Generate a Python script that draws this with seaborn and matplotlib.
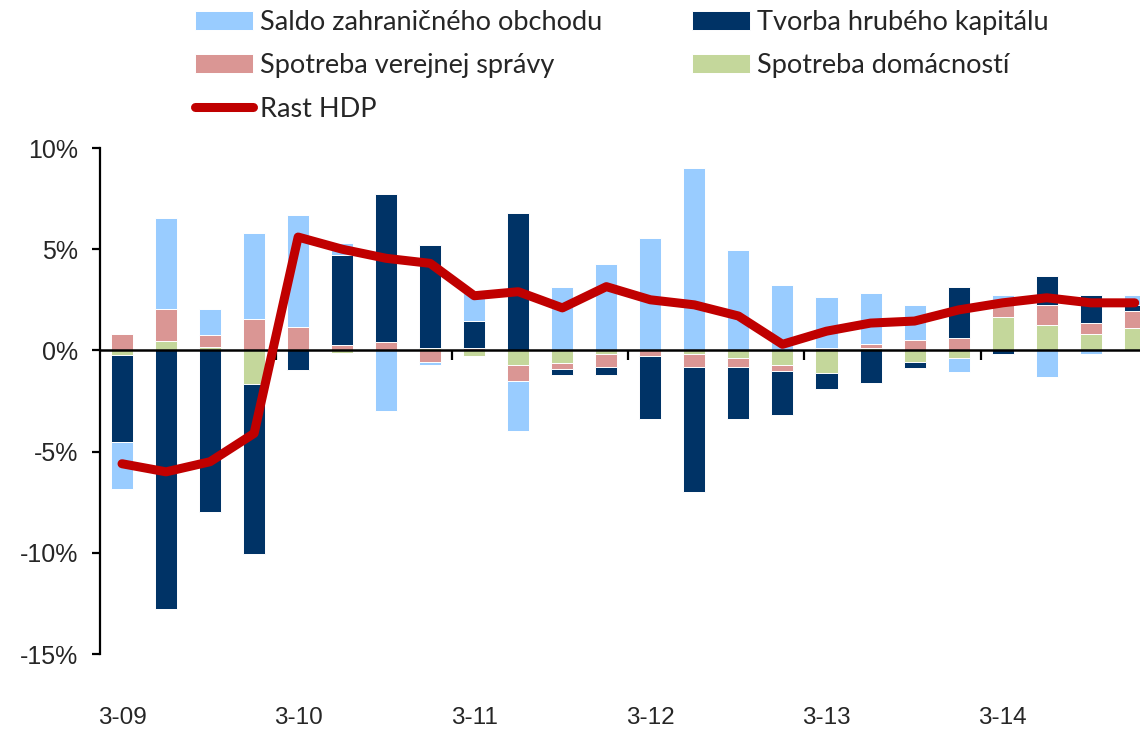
import numpy as np
import pandas as pd
import matplotlib.pyplot as plt
import seaborn as sns
from matplotlib.ticker import FuncFormatter

quarters = ["3-09", "6-09", "9-09", "12-09", "3-10", "6-10", "9-10", "12-10",
            "3-11", "6-11", "9-11", "12-11", "3-12", "6-12", "9-12", "12-12",
            "3-13", "6-13", "9-13", "12-13", "3-14", "6-14", "9-14", "12-14"]

# contributions to GDP growth, p.p.
domacnosti = [-0.23, 0.45, 0.15, -1.65, 0.0, -0.15, 0.0, 0.13, -0.28, -0.7, -0.6, -0.2,
              0.0, -0.18, -0.38, -0.7, -1.1, 0.13, -0.56, -0.36, 1.63, 1.24, 0.83, 1.12]
verejna = [0.83, 1.6, 0.6, 1.55, 1.15, 0.25, 0.43, -0.55, 0.13, -0.8, -0.3, -0.6,
           -0.28, -0.62, -0.42, -0.3, 0.12, 0.17, 0.5, 0.61, 0.81, 1.0, 0.5, 0.81]
kapital = [-4.3, -12.8, -8.0, -8.4, -0.97, 4.45, 7.3, 5.1, 1.3, 6.8, -0.3, -0.4,
           -3.12, -6.2, -2.58, -2.2, -0.8, -1.6, -0.31, 2.52, -0.2, 1.42, 1.42, 0.3]
saldo = [-2.3, 4.5, 1.3, 4.25, 5.55, 0.6, -3.0, -0.15, 1.5, -2.5, 3.15, 4.25,
         5.55, 9.0, 4.97, 3.25, 2.5, 2.55, 1.75, -0.73, 0.3, -1.29, -0.18, 0.51]
hdp = [-5.6, -6.0, -5.5, -4.1, 5.6, 5.0, 4.55, 4.3, 2.7, 2.9, 2.1, 3.15,
       2.5, 2.25, 1.7, 0.3, 0.95, 1.35, 1.45, 2.0, 2.35, 2.6, 2.35, 2.35]

# stacking order from the zero line outwards
series = [
    ("Spotreba domácností", domacnosti, "#C4D79B"),
    ("Spotreba verejnej správy", verejna, "#DA9694"),
    ("Tvorba hrubého kapitálu", kapital, "#003366"),
    ("Saldo zahraničného obchodu", saldo, "#99CCFF"),
]

sns.set_style("white")
plt.rcParams['font.family'] = ['Liberation Sans', 'DejaVu Sans']

fig, ax = plt.subplots(figsize=(11.4, 7.33), dpi=100)
fig.subplots_adjust(left=100 / 1140, right=1.0, top=1 - 148 / 733, bottom=1 - 654 / 733)

x = np.arange(len(quarters))
pos_bottom = np.zeros(len(quarters))
neg_bottom = np.zeros(len(quarters))
handles = {}
for name, vals, color in series:
    v = np.array(vals)
    bottom = np.where(v >= 0, pos_bottom, neg_bottom)
    bars = ax.bar(x, v, width=0.5, bottom=bottom, color=color,
                  edgecolor="white", linewidth=0.7, zorder=1, label=name)
    handles[name] = bars
    pos_bottom += np.where(v >= 0, v, 0)
    neg_bottom += np.where(v < 0, v, 0)

df = pd.DataFrame({"x": x, "hdp": hdp})
sns.lineplot(data=df, x="x", y="hdp", ax=ax, color="#C00000", linewidth=6.5,
             solid_capstyle="round", solid_joinstyle="round", zorder=3,
             label="Rast HDP", sort=False, legend=False)
line = ax.get_lines()[-1]

ax.set_yticks([10, 5, 0, -5, -10, -15])
ax.yaxis.set_major_formatter(FuncFormatter(lambda v, p: f"{v:.0f}%"))
ax.tick_params(axis="y", length=6, width=1.6, direction="out", labelsize=18, pad=10,
               left=True, color="black")
ax.set_xlabel("")
ax.set_ylabel("")

for s in ["top", "right"]:
    ax.spines[s].set_visible(False)
ax.spines["left"].set_linewidth(1.6)
ax.spines["left"].set_color("black")
ax.spines["bottom"].set_position(("data", 0))
ax.spines["bottom"].set_linewidth(1.8)
ax.spines["bottom"].set_color("black")
ax.set_xticks(np.arange(3.5, len(quarters) - 1, 4))
ax.set_xticklabels([])
ax.tick_params(axis="x", length=7, width=1.6, direction="out", bottom=True, color="black")

ax.set_xlim(-0.5, 23.12)
ax.set_ylim(-15, 10)

sec = ax.secondary_xaxis("bottom")
sec.set_xticks(x[::4])
sec.set_xticklabels(quarters[::4], fontsize=17.5)
sec.tick_params(length=0, pad=38)
sec.spines["bottom"].set_visible(False)

order = ["Saldo zahraničného obchodu", "Spotreba verejnej správy"]
leg_handles = [handles[order[0]], handles[order[1]], line,
               handles["Tvorba hrubého kapitálu"], handles["Spotreba domácností"]]
leg_labels = [order[0], order[1], "Rast HDP",
              "Tvorba hrubého kapitálu", "Spotreba domácností"]
fig.legend(leg_handles, leg_labels, loc="upper left", bbox_to_anchor=(195 / 1140, 1 - 10 / 733),
           ncol=2, frameon=False, prop={"family": ["Lato", "DejaVu Sans"], "size": 19.5},
           handlelength=2.15, handleheight=0.7, handletextpad=0.25, labelspacing=0.68,
           columnspacing=3.3, borderpad=0, borderaxespad=0)

plt.savefig("out.png", dpi=100)
plt.close()
